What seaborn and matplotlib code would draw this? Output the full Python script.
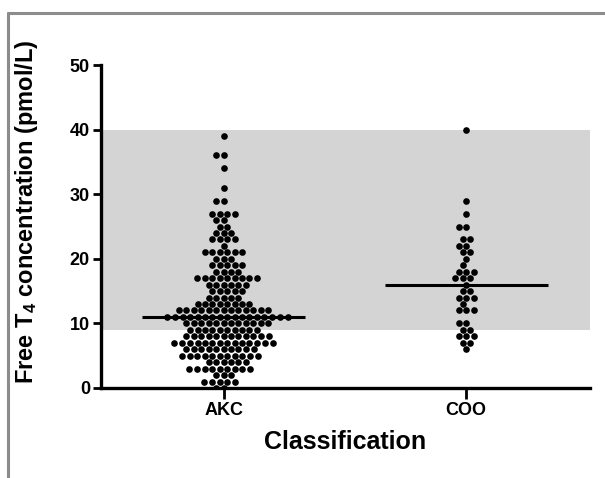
import numpy as np
import pandas as pd
import matplotlib
matplotlib.use("Agg")
import matplotlib.pyplot as plt
from matplotlib.lines import Line2D
import seaborn as sns

# ---- data (value -> number of dogs) ----
categories = ["AKC", "COO"]
akc_values = [39, 36, 34, 31, 29, 27, 26, 25, 24, 23, 22, 21, 20, 19, 18, 17, 16, 15, 14,
              13, 12, 11, 10, 9, 8, 7, 6, 5, 4, 3, 2, 1, 0]
akc_counts = [1, 2, 1, 1, 2, 4, 2, 2, 3, 4, 1, 6, 3, 5, 4, 9, 6, 5, 5,
              8, 13, 17, 12, 10, 12, 14, 10, 11, 6, 9, 3, 5, 2]
coo_values = [40, 29, 27, 25, 23, 22, 21, 20, 19, 18, 17, 16, 15, 14, 13, 12, 10, 9, 8, 7, 6]
coo_counts = [1, 1, 1, 2, 2, 2, 2, 1, 1, 3, 3, 1, 2, 3, 1, 3, 2, 2, 3, 2, 1]
reference_range = [9, 40]
y_ticks = [0, 10, 20, 30, 40, 50]

df = pd.DataFrame({
    "Classification": ["AKC"] * sum(akc_counts) + ["COO"] * sum(coo_counts),
    "FT4": list(np.repeat(akc_values, akc_counts)) + list(np.repeat(coo_values, coo_counts)),
})

sns.set_style("ticks")
plt.rcParams["font.family"] = ["Liberation Sans", "DejaVu Sans"]
plt.rcParams["font.weight"] = "bold"
plt.rcParams["text.color"] = "black"
plt.rcParams["axes.labelcolor"] = "black"
plt.rcParams["xtick.color"] = "black"
plt.rcParams["ytick.color"] = "black"
plt.rcParams["mathtext.fontset"] = "custom"
plt.rcParams["mathtext.rm"] = "Liberation Sans:bold"
plt.rcParams["mathtext.it"] = "Liberation Sans:bold"
plt.rcParams["mathtext.bf"] = "Liberation Sans:bold"

fig = plt.figure(figsize=(6.05, 4.78), dpi=100)
ax = fig.add_axes([101 / 605, 90 / 478, 489 / 605, 323 / 478])

ax.axhspan(reference_range[0], reference_range[1], color="#d4d4d4", zorder=0, lw=0)

ax.set_xlim(-0.505, 1.51)
ax.set_ylim(0, 50)

# swarm laid out with a slightly wider spacing, then markers drawn a bit smaller
sns.swarmplot(data=df, x="Classification", y="FT4", order=categories, color="black",
              size=5.3, ax=ax, zorder=3, linewidth=0)
ax.set_xlim(-0.505, 1.51)
ax.set_ylim(0, 50)
fig.canvas.draw()
for coll in ax.collections:
    if len(coll.get_offsets()) > 0 and "draw" in coll.__dict__:
        del coll.draw
        coll.set_sizes([23])

for i, cat in enumerate(categories):
    med = np.median(df.loc[df["Classification"] == cat, "FT4"])
    ax.plot([i - 0.335, i + 0.335], [med, med], color="black", lw=2.2, zorder=4,
            solid_capstyle="butt")

ax.set_yticks(y_ticks)
ax.set_yticklabels([str(t) for t in y_ticks], fontsize=13, fontweight="bold")
ax.set_xticks(range(len(categories)))
ax.set_xticklabels(categories, fontsize=13, fontweight="bold")
ax.set_xlabel("Classification", fontsize=18, fontweight="bold", labelpad=8)
ax.set_ylabel("Free T$_4$ concentration (pmol/L)", fontsize=17, fontweight="bold")
ax.yaxis.set_label_coords(-0.125, 0.545)

for s in ["top", "right"]:
    ax.spines[s].set_visible(False)
for s in ["left", "bottom"]:
    ax.spines[s].set_linewidth(2.4)
    ax.spines[s].set_color("black")
ax.spines["left"].set_zorder(5)
ax.spines["bottom"].set_zorder(5)
ax.tick_params(axis="both", direction="out", width=2, length=6, color="black", pad=2)
ax.tick_params(axis="x", length=8)

# outer grey frame
fig.add_artist(Line2D([8 / 605, 1.0], [465 / 478, 465 / 478], color="#8c8c8c", lw=2.2))
fig.add_artist(Line2D([8 / 605, 8 / 605], [0, 465 / 478], color="#8c8c8c", lw=2.2))

fig.savefig("out.png", dpi=100)
